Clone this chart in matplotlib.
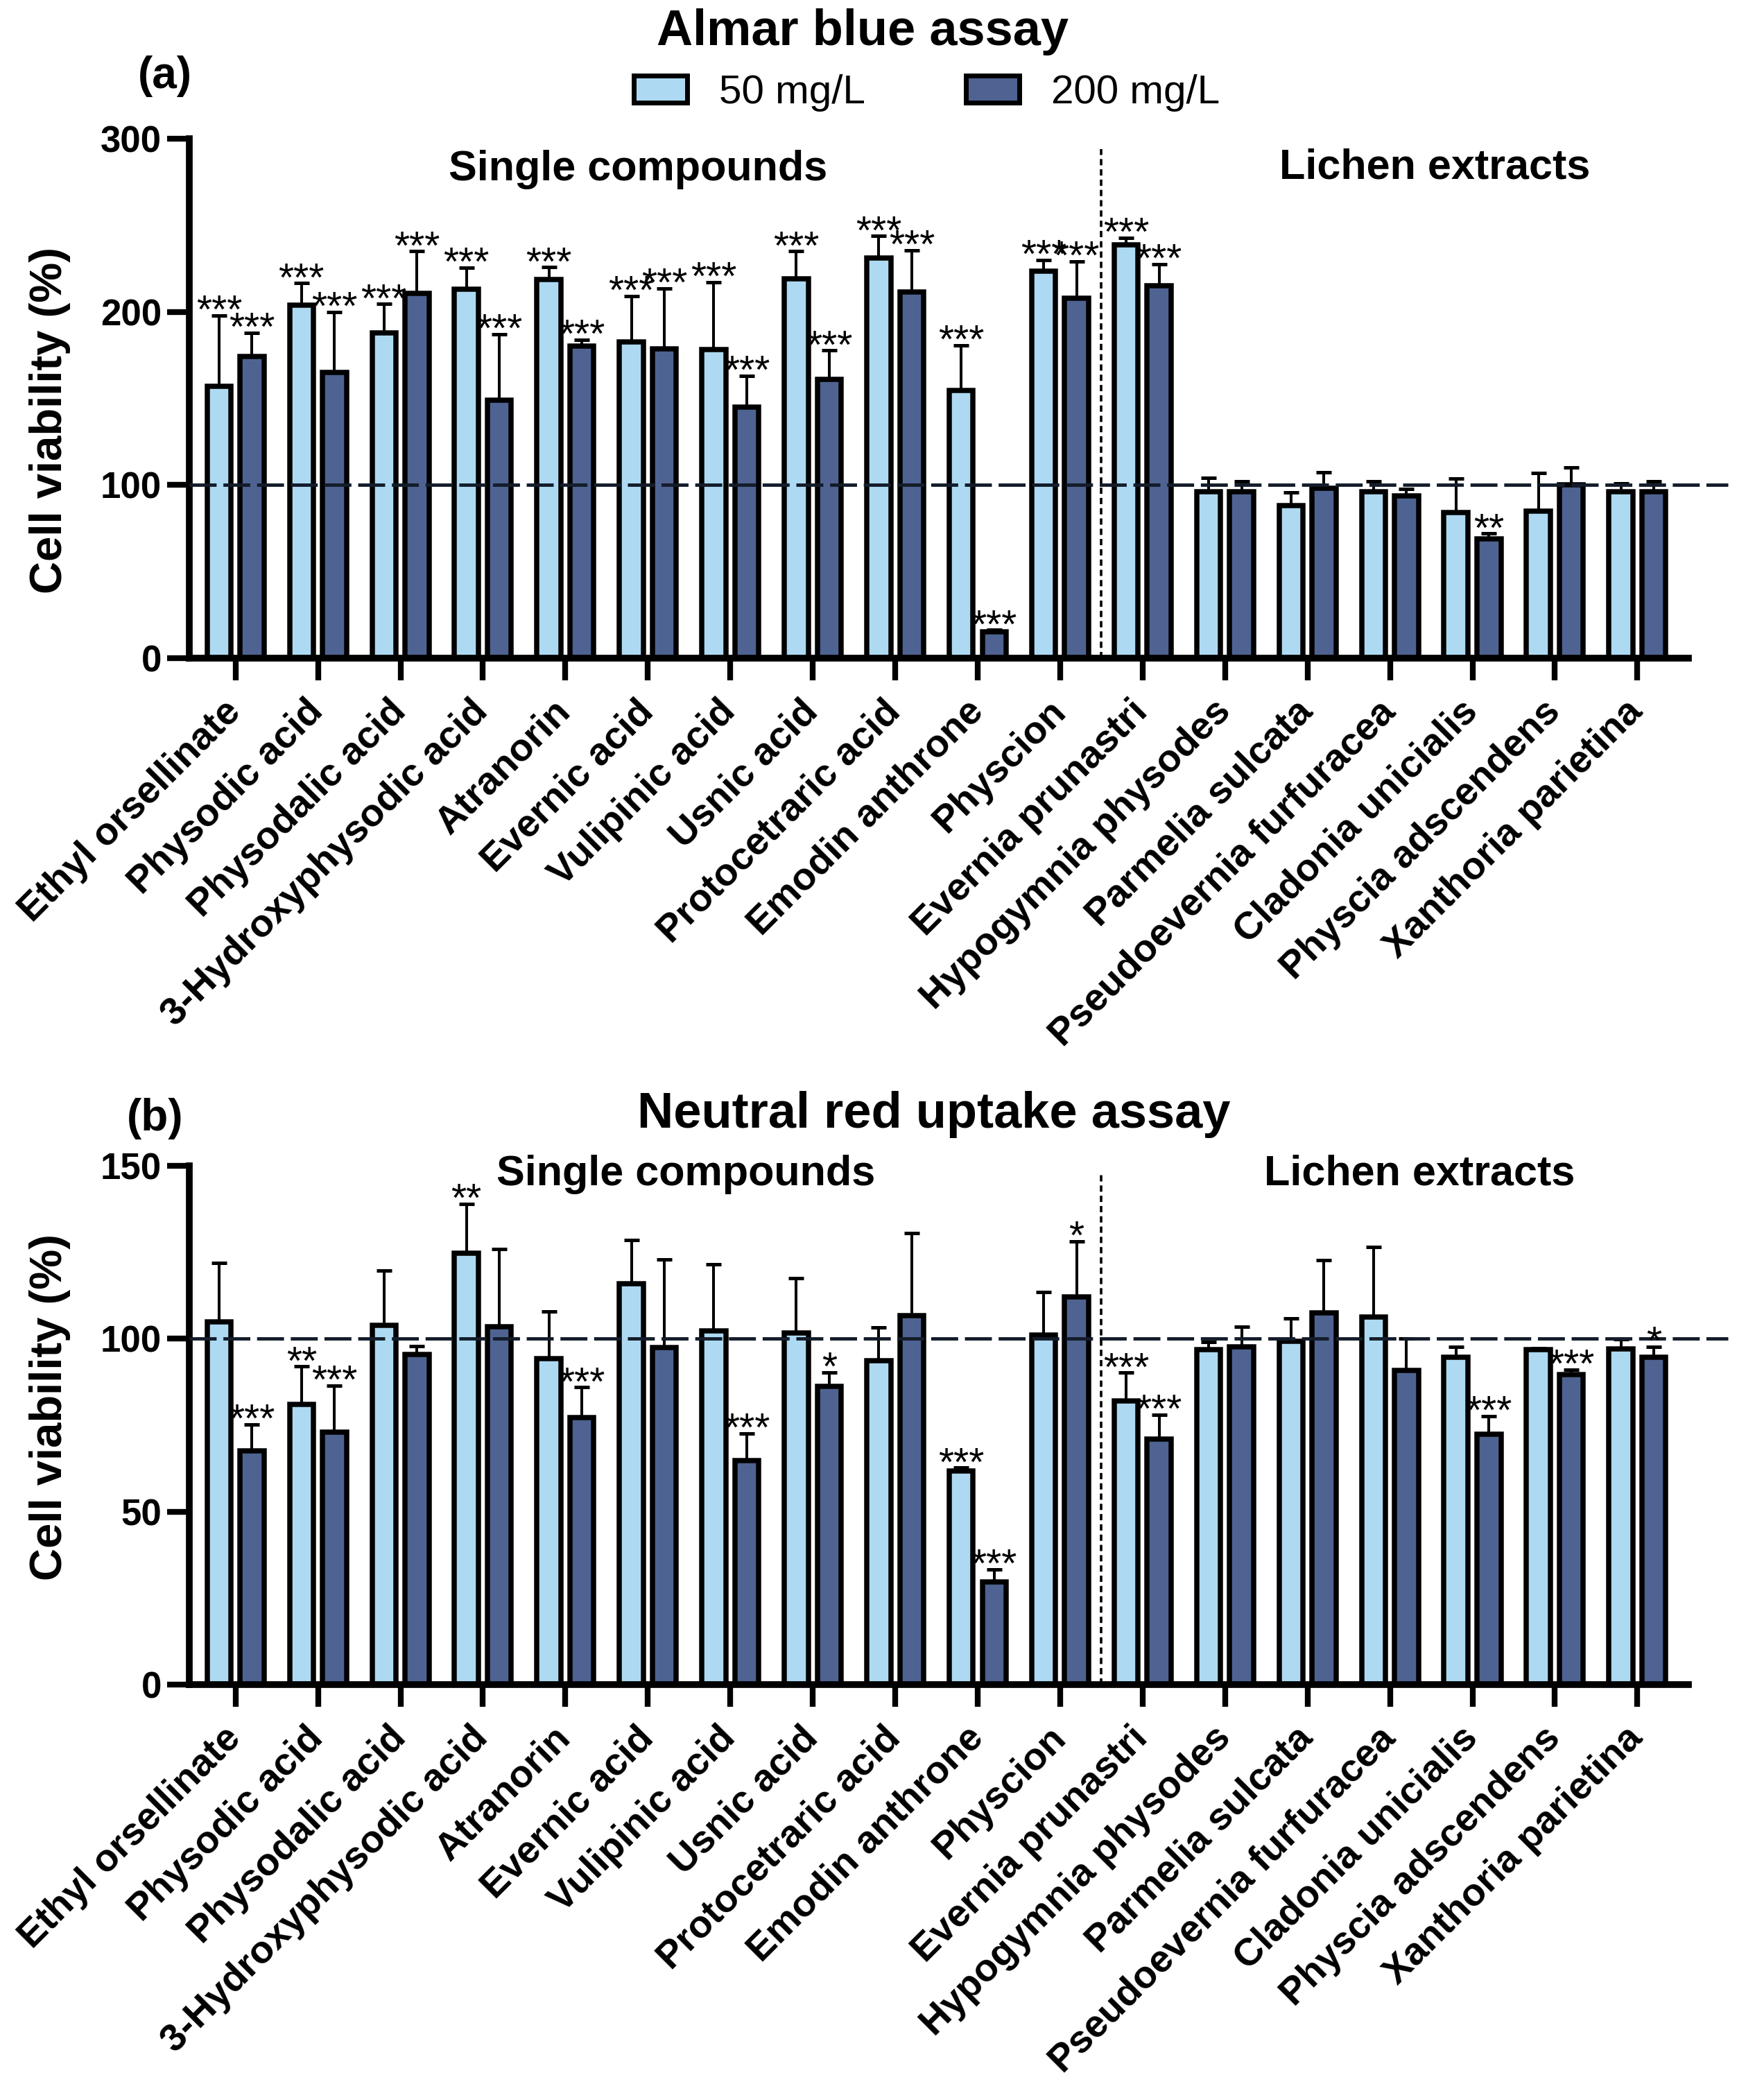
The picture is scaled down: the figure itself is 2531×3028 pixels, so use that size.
import numpy as np
import matplotlib
matplotlib.use("Agg")
import matplotlib.pyplot as plt
from matplotlib.patches import Patch

plt.rcParams["font.family"] = ["Liberation Sans", "DejaVu Sans"]

compounds = ["Ethyl orsellinate", "Physodic acid", "Physodalic acid",
             "3-Hydroxyphysodic acid", "Atranorin", "Evernic acid",
             "Vulipinic acid", "Usnic acid", "Protocetraric acid",
             "Emodin anthrone", "Physcion", "Evernia prunastri",
             "Hypogymnia physodes", "Parmelia sulcata",
             "Pseudoevernia furfuracea", "Cladonia unicialis",
             "Physcia adscendens", "Xanthoria parietina"]

# Almar blue assay (%)
ab_50 = [157, 204, 188, 213, 218.5, 182.5, 178, 219, 231, 154.5, 223.5, 238.5,
         96, 88, 96, 84, 85, 96]
ab_50_err = [41, 12.5, 16.5, 12.4, 7.2, 26.5, 39, 16, 12.8, 26.3, 6.5, 4.3,
             8, 7.7, 6, 19.6, 22, 4.8]
ab_200 = [174, 165, 210.5, 149, 180, 178.5, 145, 161, 211.5, 15.3, 208, 215,
          96, 98, 93.5, 69, 100, 96]
ab_200_err = [14, 35, 24.5, 38, 3.8, 35, 18, 16.7, 24, 1, 21, 12.5,
              6, 9.5, 4.3, 3, 10, 6]
ab_50_sig = ["***"] * 12 + [""] * 6
ab_200_sig = ["***"] * 12 + ["", "", "", "**", "", ""]

# Neutral red uptake assay (%)
nr_50 = [105, 81, 104, 124.7, 94.2, 116, 102.3, 101.7, 93.7, 61.8, 101, 82,
         96.9, 99.2, 106.3, 94.6, 96.9, 97.1]
nr_50_err = [17, 11, 15.7, 14.3, 13.8, 12.5, 19.3, 15.9, 9.5, 0.9, 12.6, 8.2,
             2.1, 6.7, 20.3, 3.1, 0.4, 2.7]
nr_200 = [67.5, 73, 95.4, 103.6, 77.3, 97.5, 64.7, 86.3, 106.7, 29.6, 112.2, 71,
          97.7, 107.6, 90.9, 72.5, 89.6, 94.6]
nr_200_err = [7.8, 13.5, 2.4, 22.3, 8.7, 25.5, 8, 4, 23.9, 3.8, 16, 7,
              5.9, 15.2, 9.1, 5.1, 1.5, 3.1]
nr_50_sig = ["", "**", "", "**", "", "", "", "", "", "***", "", "***",
             "", "", "", "", "", ""]
nr_200_sig = ["***", "***", "", "", "***", "", "***", "*", "", "***", "*", "***",
              "", "", "", "***", "***", "*"]

light = "#ADDAF2"
dark = "#4E6391"
x = np.arange(len(compounds))
off = 0.2
w = 0.29

fig = plt.figure(figsize=(25.31, 30.28), dpi=100)
ax_a = fig.add_axes([0.1079, 0.6866, 0.8542, 0.2474])
ax_b = fig.add_axes([0.1079, 0.1978, 0.8542, 0.2470])


def draw_panel(ax, v50, e50, v200, e200, s50, s200, ymax, step, lab_y, lab_x):
    for xs, vals, errs, sig, col in [(x - off, v50, e50, s50, light),
                                     (x + off, v200, e200, s200, dark)]:
        ax.bar(xs, vals, width=w, color=col, edgecolor="black", linewidth=5.4, zorder=2)
        ax.errorbar(xs, vals, yerr=[np.zeros(len(vals)), errs], fmt="none",
                    ecolor="black", elinewidth=2.9, capsize=8, capthick=3.6, zorder=3)
        for xi, v, e, s in zip(xs, vals, errs, sig):
            if s:
                ax.annotate(s, (xi, v + e), xytext=(0, -8), textcoords="offset points",
                            ha="center", va="baseline", fontsize=41, zorder=5)
    ax.plot([-0.56, 18.1], [100, 100], ls=(0, (8, 2)), color="#141c2a",
            lw=3.5, clip_on=False, zorder=4)
    ax.plot([10.5, 10.5], [0, lab_y[2]], ls=(0, (2.5, 1.6)), color="black", lw=2.6, zorder=4)
    ax.text(lab_x[0], lab_y[0], "Single compounds", ha="center", va="center",
            fontsize=44, fontweight="bold")
    ax.text(lab_x[1], lab_y[1], "Lichen extracts", ha="center", va="center",
            fontsize=44, fontweight="bold")

    ax.set_xlim(-0.56, 17.62)
    ax.set_ylim(0, ymax)
    ax.set_yticks(np.arange(0, ymax + 1, step))
    ax.set_xticks(x)
    ax.set_xticklabels(compounds, rotation=45, ha="right", va="center",
                       rotation_mode="anchor", fontsize=40, fontweight="bold")
    for t in ax.get_yticklabels():
        t.set_fontweight("bold")
        t.set_fontsize(38)
    ax.tick_params(axis="x", length=23, width=6, pad=27)
    ax.tick_params(axis="y", length=23, width=6, pad=6)
    for sp in ["top", "right"]:
        ax.spines[sp].set_visible(False)
    for sp in ["left", "bottom"]:
        ax.spines[sp].set_linewidth(7)
    ax.set_ylabel("Cell viability (%)", fontsize=47, fontweight="bold")


draw_panel(ax_a, ab_50, ab_50_err, ab_200, ab_200_err, ab_50_sig, ab_200_sig,
           300, 100, (282, 283, 294), (4.88, 14.54))
draw_panel(ax_b, nr_50, nr_50_err, nr_200, nr_200_err, nr_50_sig, nr_200_sig,
           150, 50, (147.6, 147.6, 148), (5.46, 14.36))
ax_a.yaxis.set_label_coords(-0.079, 0.458)
ax_b.yaxis.set_label_coords(-0.079, 0.535)

fig.text(0.4915, 0.9848, "Almar blue assay", ha="center", va="center",
         fontsize=52, fontweight="bold")
fig.text(0.094, 0.9637, "(a)", ha="center", va="center", fontsize=46, fontweight="bold")
fig.text(0.532, 0.4693, "Neutral red uptake assay", ha="center", va="center",
         fontsize=52, fontweight="bold")
fig.text(0.0885, 0.4673, "(b)", ha="center", va="center", fontsize=46, fontweight="bold")

handles = [Patch(facecolor=light, edgecolor="black", linewidth=5, label="50 mg/L"),
           Patch(facecolor=dark, edgecolor="black", linewidth=5, label="200 mg/L")]
fig.legend(handles=handles, loc="center", bbox_to_anchor=(0.528, 0.9557), ncol=2,
           frameon=False, fontsize=42, handlelength=1.32, handleheight=0.65,
           handletextpad=0.79, columnspacing=2.49)

fig.savefig("out.png", dpi=100, facecolor="white")
